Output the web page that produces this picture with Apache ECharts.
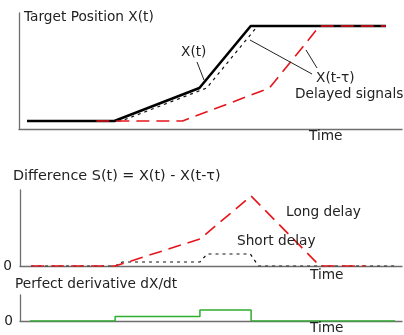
<!DOCTYPE html>
<html>
<head>
<meta charset="utf-8">
<script src="https://cdn.jsdelivr.net/npm/echarts@6/dist/echarts.min.js"></script>
<style>
  html, body { margin: 0; padding: 0; background: #fff; }
  #chart { width: 404px; height: 335px; }
</style>
</head>
<body>
<div id="chart"></div>
<script>
// Time runs 0..100 on every panel; positions are in arbitrary units.

// Target position X(t)
const posTime = [2.1, 24.9, 47.1, 60.5, 95.8];
const posValue = [0, 0, 33, 95, 95];

// Short delay X(t - τ)
const shortTime = [2.1, 26.7, 49.0, 62.3, 95.8];
const shortValue = [0, 0, 33, 95, 95];

// Long delay X(t - τ)
const longTime = [20.2, 42.7, 65.4, 78.5, 95.8];
const longValue = [0, 0, 33, 95, 95];

// Difference S(t) = X(t) - X(t - τ)
const diffLongTime = [2.9, 24.9, 47.1, 60.5, 78.5, 90.3];
const diffLongValue = [0, 0, 27, 70, 0, 0];
const diffShortTime = [2.9, 24.9, 26.8, 47.1, 49.0, 60.3, 62.4, 98.7];
const diffShortValue = [0, 0, 4, 4, 12, 12, 0, 0];

// Perfect derivative dX/dt (value holds until the next time)
const derivTime = [2.6, 24.9, 47.1, 60.5, 98.2];
const derivValue = [0, 4.5, 11, 0, 0];

const zip = (xs, ys) => xs.map((x, i) => [x, ys[i]]);

const FONT = 'DejaVu Sans';
const TEXT = '#222';
const AXIS = '#6e6e6e';

function xAxisFor(gridIndex) {
  return {
    gridIndex, type: 'value', min: 0, max: 100,
    axisLine: { show: true, onZero: false, lineStyle: { color: AXIS, width: 1.3 } },
    axisTick: { show: false }, axisLabel: { show: false }, splitLine: { show: false }
  };
}
function yAxisFor(gridIndex, min, max, zeroLabel, margin) {
  return {
    gridIndex, type: 'value', min, max, interval: max - min,
    axisLine: { show: true, lineStyle: { color: AXIS, width: 1.3 } },
    axisTick: { show: false }, splitLine: { show: false },
    axisLabel: {
      show: zeroLabel, margin: margin, color: TEXT, fontFamily: FONT, fontSize: 13.7,
      formatter: v => (v === 0 ? '0' : '')
    }
  };
}

function label(text, x, y, size) {
  const fs = size || 13.7;
  return {
    type: 'text', left: x, top: y - fs * 0.6,
    style: { text, fill: TEXT, font: `${fs}px "${FONT}"` }, z: 100
  };
}
function leader(x1, y1, x2, y2) {
  return {
    type: 'line', shape: { x1, y1, x2, y2 },
    style: { stroke: '#222', lineWidth: 1 }, z: 100
  };
}

const chart = echarts.init(document.getElementById('chart'), null, { renderer: 'canvas' });
chart.setOption({
  backgroundColor: '#fff',
  animation: false,
  grid: [
    { left: 19, top: 13, width: 383, height: 116 },
    { left: 20, top: 190, width: 382, height: 76 },
    { left: 20, top: 295, width: 382, height: 26 }
  ],
  xAxis: [xAxisFor(0), xAxisFor(1), xAxisFor(2)],
  yAxis: [
    yAxisFor(0, -8, 108, false, 8),
    yAxisFor(1, 0, 76, true, 8),
    yAxisFor(2, 0, 26, true, 7)
  ],
  series: [
    {
      type: 'line', xAxisIndex: 0, yAxisIndex: 0, data: zip(shortTime, shortValue),
      symbol: 'none', lineStyle: { color: '#111', width: 1.2, type: [3, 4] }, z: 2
    },
    {
      type: 'line', xAxisIndex: 0, yAxisIndex: 0, data: zip(posTime, posValue),
      symbol: 'none', lineStyle: { color: '#000', width: 2.6 }, z: 3
    },
    {
      type: 'line', xAxisIndex: 0, yAxisIndex: 0, data: zip(longTime, longValue),
      symbol: 'none', lineStyle: { color: '#e8141b', width: 1.6, type: [13, 7] }, z: 4
    },
    {
      type: 'line', xAxisIndex: 1, yAxisIndex: 1, data: zip(diffShortTime, diffShortValue),
      symbol: 'none', lineStyle: { color: '#111', width: 1.2, type: [3, 4] }, z: 2
    },
    {
      type: 'line', xAxisIndex: 1, yAxisIndex: 1, data: zip(diffLongTime, diffLongValue),
      symbol: 'none', lineStyle: { color: '#e8141b', width: 1.6, type: [13, 7] }, z: 3
    },
    {
      type: 'line', xAxisIndex: 2, yAxisIndex: 2, data: zip(derivTime, derivValue),
      step: 'end', symbol: 'none', lineStyle: { color: '#2fae2f', width: 1.5 }, z: 3
    }
  ],
  graphic: [
    label('Target Position X(t)', 24, 19),
    label('X(t)', 181, 54),
    leader(197, 62, 204, 80),
    label('X(t-\u03c4)', 316, 80),
    leader(250, 40, 312, 74),
    leader(306, 50, 317, 68),
    label('Delayed signals', 295, 96),
    label('Time', 309, 138),
    label('Difference S(t) = X(t) - X(t-\u03c4)', 13, 178, 14.4),
    label('Long delay', 286, 214),
    label('Short delay', 237, 243),
    label('Time', 310, 277),
    label('Perfect derivative dX/dt', 15, 286),
    label('Time', 310, 330)
  ]
});
</script>
</body>
</html>
